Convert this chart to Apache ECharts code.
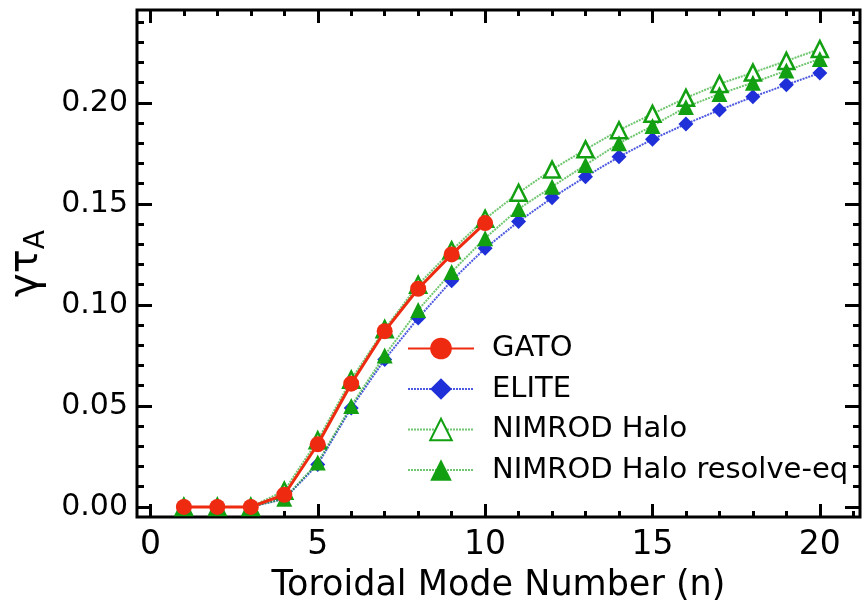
<!DOCTYPE html>
<html>
<head>
<meta charset="utf-8">
<script src="https://cdn.jsdelivr.net/npm/echarts@6/dist/echarts.min.js"></script>
<style>
  html, body { margin: 0; padding: 0; background: #fff; }
  #chart { width: 863px; height: 610px; }
</style>
</head>
<body>
<div id="chart"></div>
<script>
const modes = [1, 2, 3, 4, 5, 6, 7, 8, 9, 10, 11, 12, 13, 14, 15, 16, 17, 18, 19, 20];
const gato = [0, 0, 0, 0.006, 0.031, 0.061, 0.087, 0.108, 0.125, 0.1405];
const elite = [0, 0, 0, 0.004, 0.021, 0.049, 0.073, 0.0935, 0.112, 0.128, 0.1413, 0.153, 0.1635, 0.1733, 0.182, 0.1896, 0.1965, 0.203, 0.209, 0.2148];
const halo = [0, 0, 0, 0.008, 0.033, 0.063, 0.088, 0.110, 0.127, 0.1426, 0.1555, 0.167, 0.177, 0.1865, 0.1946, 0.2025, 0.2094, 0.215, 0.2208, 0.2267];
const resolveEq = [0, 0, 0, 0.004, 0.022, 0.050, 0.075, 0.0975, 0.1163, 0.133, 0.1475, 0.1585, 0.1693, 0.180, 0.1886, 0.198, 0.2044, 0.210, 0.216, 0.2218];

const xMajor = [0, 5, 10, 15, 20];
const xMinor = [0, 1, 2, 3, 4, 5, 6, 7, 8, 9, 10, 11, 12, 13, 14, 15, 16, 17, 18, 19, 20, 21];
const yMajor = [0, 0.05, 0.10, 0.15, 0.20];
const yMinor = [0, 0.01, 0.02, 0.03, 0.04, 0.05, 0.06, 0.07, 0.08, 0.09, 0.10, 0.11, 0.12, 0.13, 0.14, 0.15, 0.16, 0.17, 0.18, 0.19, 0.20, 0.21, 0.22, 0.23, 0.24];

const pair = ys => ys.map((y, i) => [modes[i], y]);

const FONT = 'DejaVu Sans';
const RED = '#ee2a10', BLUE = '#2030d8', GREEN = '#12a012';

// four grids on the same rect: one holds the data + frame, the others carry tick sets
const rect = { left: 137, right: 3, top: 10, bottom: 93, outerBoundsMode: 'none', containLabel: false };

function xAx(g, pos, ticks, len, labels) {
  return {
    gridIndex: g, type: 'value', position: pos, min: -0.4, max: 21.2,
    axisLine: { show: false, onZero: false }, splitLine: { show: false },
    axisTick: { show: true, inside: true, length: len, customValues: ticks, lineStyle: { color: '#000', width: 3 } },
    axisLabel: labels ? { show: true, customValues: xMajor, margin: 12, fontSize: 33, fontFamily: FONT, color: '#000' } : { show: false }
  };
}
function yAx(g, pos, ticks, len, labels) {
  return {
    gridIndex: g, type: 'value', position: pos, min: -0.005, max: 0.246,
    axisLine: { show: false, onZero: false }, splitLine: { show: false },
    axisTick: { show: true, inside: true, length: len, customValues: ticks, lineStyle: { color: '#000', width: 3 } },
    axisLabel: labels ? { show: true, customValues: yMajor, margin: 9, fontSize: 30, fontFamily: FONT, color: '#000',
      formatter: v => v.toFixed(2) } : { show: false }
  };
}

const xAxes = [xAx(0, 'bottom', xMajor, 13, true), xAx(1, 'bottom', xMinor, 6, false), xAx(2, 'top', xMajor, 13, false), xAx(3, 'top', xMinor, 6, false)];
xAxes[0].name = 'Toroidal Mode Number (n)';
xAxes[0].nameLocation = 'middle';
xAxes[0].nameGap = 51;
xAxes[0].nameTextStyle = { fontSize: 35, fontFamily: FONT, color: '#000' };

const yAxes = [yAx(0, 'left', yMajor, 15, true), yAx(1, 'left', yMinor, 7, false), yAx(2, 'right', yMajor, 15, false), yAx(3, 'right', yMinor, 7, false)];
yAxes[0].name = '{g|γτ}{s|A}';
yAxes[0].nameLocation = 'middle';
yAxes[0].nameRotate = 90;
yAxes[0].nameGap = 85;
yAxes[0].nameTextStyle = {
  color: '#000', fontFamily: FONT,
  rich: {
    g: { fontSize: 40, fontFamily: FONT, color: '#000' },
    s: { fontSize: 28, fontFamily: FONT, color: '#000', padding: [20, 0, 0, 0] }
  }
};

const chart = echarts.init(document.getElementById('chart'));
chart.setOption({
  animation: false,
  grid: [
    Object.assign({ show: true, borderColor: '#000', borderWidth: 3, backgroundColor: 'transparent' }, rect),
    Object.assign({}, rect), Object.assign({}, rect), Object.assign({}, rect)
  ],
  xAxis: xAxes,
  yAxis: yAxes,
  legend: {
    orient: 'vertical', left: 402, top: 329,
    itemWidth: 66, itemHeight: 27, itemGap: 11.5,
    textStyle: { fontSize: 29, fontFamily: FONT, color: '#000', padding: [0, 0, 0, 13] },
    data: ['GATO', 'ELITE', 'NIMROD Halo', 'NIMROD Halo resolve-eq']
  },
  series: [
    {
      name: 'GATO', type: 'line', z: 6, data: pair(gato),
      symbol: 'circle', symbolSize: 16,
      itemStyle: { color: RED },
      lineStyle: { color: RED, width: 3 }
    },
    {
      name: 'ELITE', type: 'line', z: 2, data: pair(elite),
      symbol: 'diamond', symbolSize: 15,
      itemStyle: { color: BLUE },
      lineStyle: { color: BLUE, width: 2, type: [2, 1], opacity: 0.8 }
    },
    {
      name: 'NIMROD Halo', type: 'line', z: 3, data: pair(halo),
      symbol: 'triangle', symbolSize: 16,
      itemStyle: { color: '#fff', borderColor: GREEN, borderWidth: 2.5 },
      lineStyle: { color: GREEN, width: 2, type: [2, 1], opacity: 0.6 }
    },
    {
      name: 'NIMROD Halo resolve-eq', type: 'line', z: 4, data: pair(resolveEq),
      symbol: 'triangle', symbolSize: 16,
      itemStyle: { color: GREEN },
      lineStyle: { color: GREEN, width: 2, type: [2, 1], opacity: 0.6 }
    }
  ]
});
</script>
</body>
</html>
